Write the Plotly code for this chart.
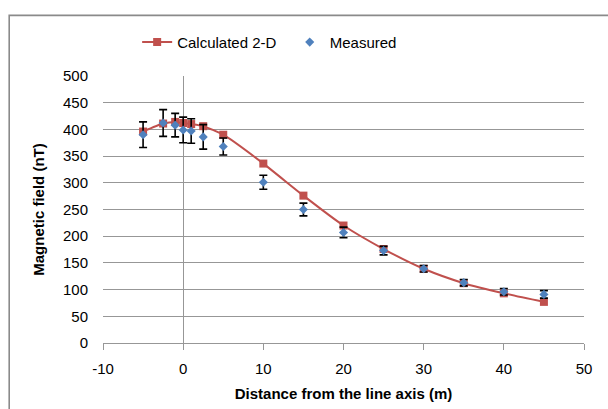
import plotly.graph_objects as go

# Distance from the line axis (m)
distance = [-5, -2.5, -1, 0, 1, 2.5, 5, 10, 15, 20, 25, 30, 35, 40, 45]
# Calculated 2-D field (nT)
calculated = [396, 411, 414, 412, 410, 406, 390, 336, 276, 220, 176, 139, 112, 93, 77]
# Measured field (nT) and its uncertainty
measured = [390, 412, 408, 399, 397, 386, 368, 301, 250, 207, 173, 139, 113, 96, 91]
measured_err = [24, 25, 22, 24, 23, 23, 16, 13, 12, 10, 8, 6, 6, 6, 7]

x_ticks = [-10, 0, 10, 20, 30, 40, 50]
y_ticks = [0, 50, 100, 150, 200, 250, 300, 350, 400, 450, 500]

RED = "#C0504D"
BLUE = "#4F81BD"
GRID = "#979797"
FONT = "Liberation Sans, Arial, sans-serif"

fig = go.Figure()

fig.add_trace(go.Scatter(
    x=distance, y=calculated, name="Calculated 2-D\u00a0\u00a0",
    mode="lines+markers",
    line=dict(color=RED, width=2, shape="spline", smoothing=0.6),
    marker=dict(symbol="square", size=8, color=RED),
))

fig.add_trace(go.Scatter(
    x=distance, y=measured, name="Measured",
    mode="markers",
    marker=dict(symbol="diamond", size=7, color=BLUE),
    error_y=dict(type="data", array=measured_err, visible=True,
                 color="#000000", thickness=1.6, width=4),
))

# outer chart frame
fig.add_shape(type="rect", xref="paper", yref="paper",
              x0=-0.195, x1=1.08, y0=-0.29, y1=1.227,
              line=dict(color="#8a8a8a", width=1.6), fillcolor="rgba(0,0,0,0)",
              layer="below")

fig.update_layout(
    width=608, height=409,
    margin=dict(l=102.7, r=24.3, t=75.7, b=65.7),
    paper_bgcolor="white", plot_bgcolor="white",
    font=dict(family=FONT, size=15, color="#000000"),
    showlegend=True,
    legend=dict(orientation="h", x=0.071, y=1.126, xanchor="left", yanchor="middle",
                font=dict(size=15), bgcolor="rgba(0,0,0,0)", itemwidth=30,
                tracegroupgap=0),
    xaxis=dict(
        range=[-10, 50], tickvals=x_ticks, ticktext=[str(v) for v in x_ticks],
        showgrid=False, zeroline=True, zerolinecolor=GRID, zerolinewidth=1,
        showline=True, linecolor=GRID, linewidth=1,
        ticks="outside", ticklen=6, tickcolor=GRID, tickwidth=1,
        ticklabelstandoff=6, automargin=False,
        title=dict(text="<b>Distance from the line axis (m)</b>", font=dict(size=15), standoff=12),
    ),
    yaxis=dict(
        range=[0, 500], tickvals=y_ticks, ticktext=[str(v) for v in y_ticks],
        showgrid=True, gridcolor=GRID, gridwidth=1, zeroline=False,
        showline=False, ticks="", ticklabelstandoff=14, automargin=False,
        title=dict(text="<b>Magnetic field (nT)</b>", font=dict(size=15), standoff=14),
    ),
)

fig.write_html("out.html")
